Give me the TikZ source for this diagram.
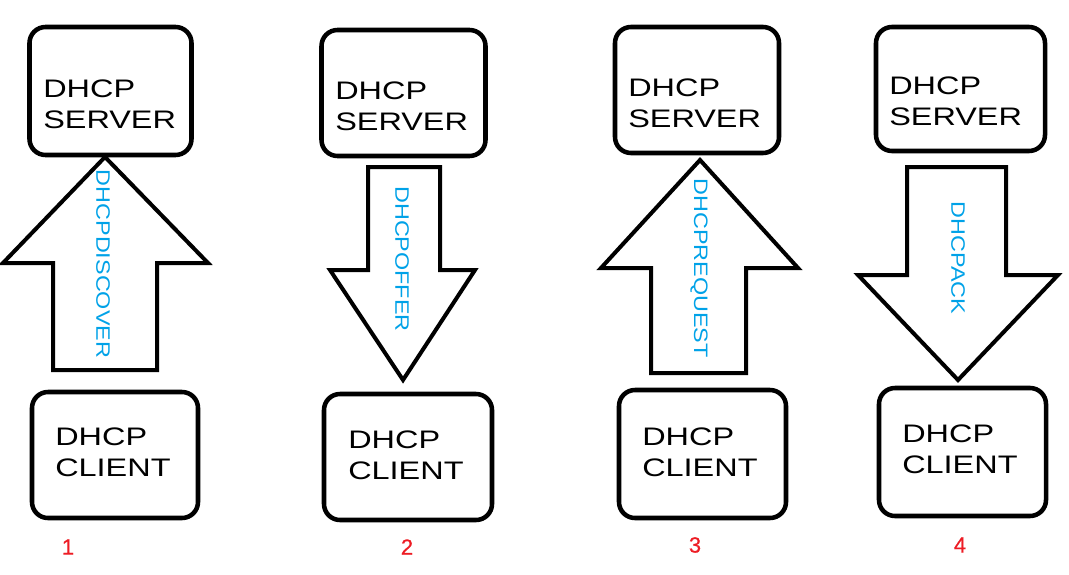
\documentclass[tikz,border=0pt]{standalone}
\usepackage{fontspec}
\usepackage{xcolor}
\setmainfont{Liberation Sans}
\newfontfamily\boxfont[FakeStretch=1.28]{Liberation Sans}
\newfontfamily\msgfont[FakeStretch=1.2]{Liberation Sans}
\newfontfamily\numfont[FakeBold=0.6]{Liberation Sans}
\definecolor{msgblue}{HTML}{00A2E8}
\definecolor{numred}{HTML}{ED1C24}

\begin{document}
\begin{tikzpicture}[
  x=0.75pt, y=-0.75pt,
  box/.style 2 args={rectangle, draw, line width=3.4pt, rounded corners=12pt,
                     minimum width=#1*0.75pt, minimum height=#2*0.75pt, inner sep=0pt},
  boxtxt/.style={anchor=west, inner sep=0pt, align=left,
                 font=\boxfont\fontsize{19}{23}\selectfont},
  blockarr/.style={draw, line width=3pt, fill=white},
  msg/.style={rotate=-90, text=msgblue, inner sep=0pt,
              font=\msgfont\fontsize{14.6}{16}\selectfont},
  num/.style={text=numred, inner sep=0pt, font=\numfont\fontsize{16.5}{18}\selectfont},
]
  \useasboundingbox (0,0) rectangle (1069,574);

  % Step 1: discover
  \node[box={162}{128}] (srv1) at (110.5,91) {};
  \node[box={166}{126}] (cli1) at (115,455) {};
  \node[boxtxt] (srv1t) at (43,104) {DHCP\\SERVER};
  \node[boxtxt] (cli1t) at (55,452.5) {DHCP\\CLIENT};
  \draw[blockarr] (53,370) -- (53,263) -- (3,263) -- (105,157)
    -- (208,263) -- (157,263) -- (157,370) -- cycle;
  \node[msg] (msg1) at (103,264) {DHCPDISCOVER};
  \node[num] (num1) at (68,547) {1};

  % Step 2: offer
  \node[box={164}{126}] (srv2) at (403.5,93) {};
  \node[box={168}{126}] (cli2) at (408,457) {};
  \node[boxtxt] (srv2t) at (335,106) {DHCP\\SERVER};
  \node[boxtxt] (cli2t) at (348,455) {DHCP\\CLIENT};
  \draw[blockarr] (368,167) -- (440,167) -- (440,270) -- (475,270)
    -- (403,380) -- (330,270) -- (368,270) -- cycle;
  \node[msg] (msg2) at (402,259) {DHCPOFFER};
  \node[num] (num2) at (407,547) {2};

  % Step 3: request
  \node[box={164}{126}] (srv3) at (697,90) {};
  \node[box={167}{128}] (cli3) at (702.5,454) {};
  \node[boxtxt] (srv3t) at (628,103) {DHCP\\SERVER};
  \node[boxtxt] (cli3t) at (642,452) {DHCP\\CLIENT};
  \draw[blockarr] (651,373) -- (651,268) -- (601,268) -- (700,160)
    -- (798,268) -- (746,268) -- (746,373) -- cycle;
  \node[msg] (msg3) at (699,268) {DHCPREQUEST};
  \node[num] (num3) at (695,545) {3};

  % Step 4: ack
  \node[box={169}{124}] (srv4) at (960.5,89) {};
  \node[box={167}{128}] (cli4) at (962.5,452) {};
  \node[boxtxt] (srv4t) at (889,101) {DHCP\\SERVER};
  \node[boxtxt] (cli4t) at (902,449) {DHCP\\CLIENT};
  \draw[blockarr] (907,167) -- (1006,167) -- (1006,275) -- (1058,275)
    -- (958,380) -- (858,275) -- (907,275) -- cycle;
  \node[msg] (msg4) at (958,258) {DHCPACK};
  \node[num] (num4) at (960,545) {4};
\end{tikzpicture}
\end{document}
